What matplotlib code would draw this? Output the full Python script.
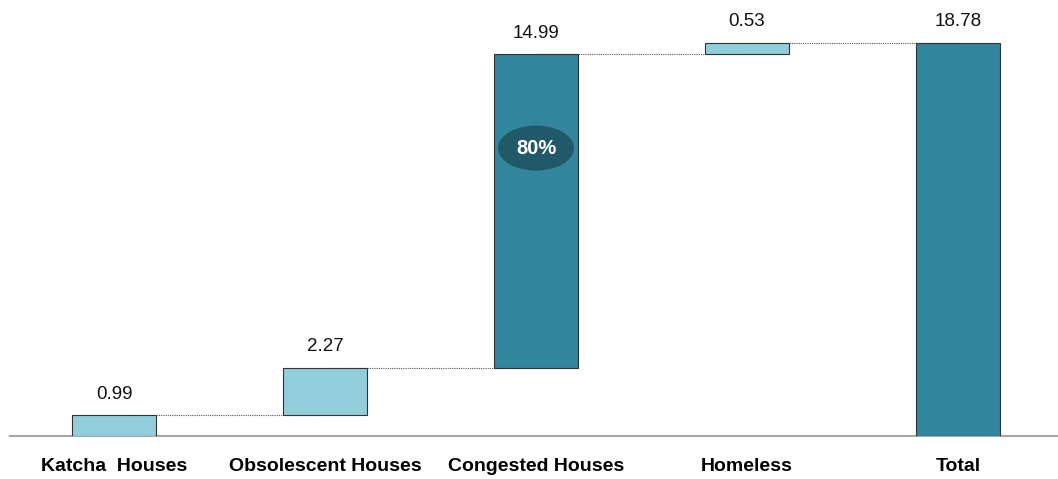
import numpy as np
import matplotlib
matplotlib.use("Agg")
from matplotlib import pyplot as plt
from matplotlib.patches import Ellipse

# housing shortage components (millions), waterfall into the total
categories = ["Katcha  Houses", "Obsolescent Houses", "Congested Houses", "Homeless", "Total"]
values = [0.99, 2.27, 14.99, 0.53]
total = 18.78
share_label = "80%"   # congested share of total
share_index = 2

light = "#92CDDC"
dark = "#31859C"
colors = [light, light, dark, light, dark]

plt.rcParams["font.family"] = ["Liberation Sans", "DejaVu Sans"]

heights = values + [total]
bottoms = list(np.concatenate([[0], np.cumsum(values)[:-1]])) + [0]
tops = [b + h for b, h in zip(bottoms, heights)]
x = np.arange(len(categories))

fig = plt.figure(figsize=(10.58, 4.79), dpi=100)
ax = fig.add_axes([10 / 1058, 43 / 479, 1 - 10 / 1058, 436 / 479])

ax.bar(x, heights, bottom=bottoms, width=0.4, color=colors,
       edgecolor="#333333", linewidth=0.8, zorder=3)

# dotted connectors from one bar's top to the next
for i in range(len(x) - 1):
    ax.plot([x[i], x[i + 1]], [tops[i], tops[i]], linestyle=(0, (1, 1)),
            color="#555555", linewidth=0.8, zorder=2)

for xi, top, h in zip(x, tops, heights):
    ax.annotate(f"{h:.2f}", (xi, top), xytext=(0, 9), textcoords="offset points",
                ha="center", va="bottom", fontsize=13.5, color="#111111")

# share bubble on the congested bar
ymid = 0.5 * (bottoms[share_index] + tops[share_index]) + 3.0
ell = Ellipse((x[share_index], ymid), width=0.36, height=2.15,
              facecolor="#215968", edgecolor="none", zorder=4)
ax.add_patch(ell)
ax.text(x[share_index], ymid, share_label, ha="center", va="center",
        color="white", fontsize=14.5, fontweight="bold", zorder=5)

ax.set_xlim(-0.493, 4.474)
ax.set_ylim(0, 20.83)
ax.set_xticks(x)
ax.set_xticklabels(categories, fontsize=14, fontweight="bold")
ax.tick_params(axis="x", length=0, pad=16)
ax.set_yticks([])
for side in ["top", "right", "left"]:
    ax.spines[side].set_visible(False)
ax.spines["bottom"].set_color("#A6A6A6")
ax.spines["bottom"].set_linewidth(1.5)
ax.patch.set_alpha(0)

plt.savefig("out.png", dpi=100)
